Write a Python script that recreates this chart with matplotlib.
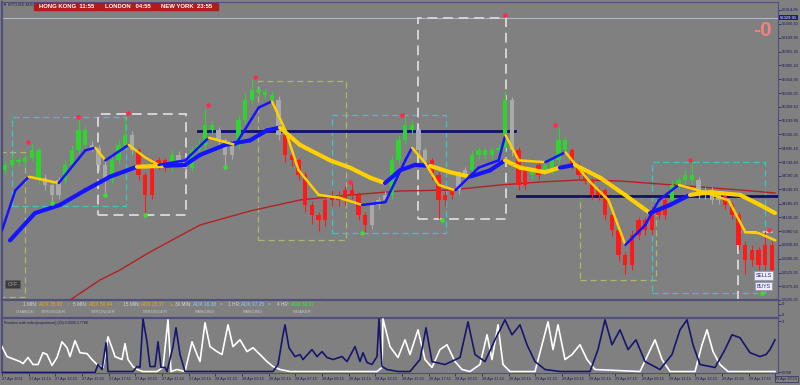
import numpy as np
import matplotlib
matplotlib.use('Agg')
import matplotlib.pyplot as plt
from matplotlib.patches import Rectangle
from matplotlib.transforms import blended_transform_factory

plt.rcParams['font.family'] = ['Liberation Sans', 'DejaVu Sans']

# Velas de 30 minutos, eje x en barras M15 contadas desde 27 Apr 09:15
apertura_inicial = 54650
cierres = [54710, 54760, 54740, 54790, 54870, 54570, 54490, 54380, 54540, 54710,
           54870, 55090, 54930, 54900, 54710, 54540, 54760, 54930, 55040, 54870,
           54600, 54380, 54710, 54760, 54680, 54820, 54760, 54680, 54870, 54930,
           55150, 55090, 54980, 54820, 54930, 55200, 55420, 55530, 55510, 55480,
           55420, 55040, 54820, 54760, 54600, 54270, 54160, 54100, 54320, 54380,
           54320, 54430, 54380, 54160, 54050, 54270, 54320, 54380, 54760, 54980,
           55150, 55090, 54870, 54760, 54600, 54320, 54380, 54430, 54600, 54650,
           54820, 54870, 54820, 54870, 54900, 55420, 54870, 54490, 54650, 54600,
           54710, 54650, 54760, 54980, 54870, 54710, 54600, 54540, 54380, 54430,
           54160, 53990, 53720, 53610, 53940, 54100, 53990, 54210, 54160, 54320,
           54490, 54540, 54600, 54540, 54380, 54430, 54320, 54380, 54270, 54160,
           53830, 53660, 53770, 53610, 53830, 53550]
mecha_sup = [40, 60, 40, 50, 80, 30, 40, 30, 40, 50,
             60, 120, 50, 40, 30, 40, 50, 60, 200, 40,
             30, 30, 60, 40, 30, 60, 40, 40, 50, 60,
             180, 40, 40, 30, 50, 60, 80, 120, 40, 40,
             40, 50, 30, 30, 30, 30, 40, 30, 60, 50,
             40, 50, 80, 30, 30, 40, 40, 40, 50, 60,
             100, 50, 30, 30, 30, 30, 40, 40, 40, 40,
             50, 40, 40, 40, 40, 100, 40, 40, 60, 40,
             40, 40, 50, 150, 40, 30, 30, 30, 30, 40,
             30, 30, 30, 30, 50, 40, 40, 50, 40, 40,
             50, 40, 50, 150, 40, 40, 40, 40, 30, 30,
             30, 40, 60, 40, 150, 40]
mecha_inf = [40, 50, 40, 40, 40, 60, 60, 80, 40, 40,
             40, 40, 50, 40, 60, 150, 40, 40, 40, 40,
             60, 200, 40, 50, 40, 40, 40, 40, 40, 40,
             40, 40, 60, 120, 40, 40, 40, 40, 40, 40,
             40, 60, 80, 60, 60, 80, 100, 120, 60, 60,
             60, 50, 50, 60, 80, 50, 40, 40, 40, 40,
             40, 40, 40, 50, 60, 200, 60, 40, 40, 40,
             40, 40, 40, 40, 40, 40, 60, 60, 40, 40,
             40, 40, 40, 40, 40, 40, 50, 40, 50, 60,
             60, 60, 70, 100, 60, 40, 50, 50, 40, 40,
             40, 40, 40, 40, 40, 40, 40, 40, 50, 50,
             60, 150, 60, 60, 60, 60]
color_velas = ("ggggggnnng" "gggnnngggn" "rrrrrgnngg" "ggnnnggggg" "gnrrrrrrrr"
               "rrrrrnnngg" "ggnnrrrrnn" "ggggggnrrg" "rggggrrrrr" "rrrrrrrrrr"
               "ggggnnnnrr" "rrrrrr")

# Media rapida (azul al subir, amarilla al bajar)
rapida_x = [0, 4, 8, 17, 25, 28, 31, 38, 43, 47, 55, 62, 70, 77, 81, 85, 89, 95, 101, 108,
            115, 121, 123, 127, 131, 136, 143, 149, 151, 155, 163, 169, 176, 182, 187, 193,
            197, 203, 209, 218, 223, 227, 232]
rapida_y = [53990, 54430, 54580, 54510, 54870, 54900, 54760, 54930, 54790, 54710, 54760,
            55010, 54930, 55340, 55410, 55090, 54650, 54380, 54350, 54270, 54300, 54760,
            54900, 54730, 54490, 54430, 54680, 54760, 55040, 54760, 54740, 54850, 54540,
            54320, 53830, 54050, 54320, 54490, 54430, 54320, 53970, 53960, 53880]
rapida_col = "bbybbybyybbybbyyyyybbbyyybbbyybyyybbbyyyyy"

# Media lenta
lenta_x = [2.4, 9.9, 17.4, 24.9, 32.4, 40.5, 48.9, 54.9, 59.4, 66.9, 74.4, 79.5, 83.4, 89.4,
           98.4, 104.4, 110.4, 114.9, 119.4, 123.9, 128.4, 134.4, 140.4, 146.4, 150.9, 155.4,
           162.9, 167.4, 171.9, 179.4, 186.9, 194.4, 200.4, 206.4, 212.4, 221.4, 227.4, 231.9]
lenta_y = [53880, 54180, 54270, 54430, 54580, 54690, 54700, 54710, 54820, 54930, 54980, 55090,
           55120, 54930, 54760, 54680, 54570, 54510, 54650, 54710, 54700, 54630, 54580, 54650,
           54760, 54680, 54630, 54680, 54710, 54570, 54380, 54180, 54270, 54380, 54410, 54380,
           54270, 54180]
lenta_col = "bbbbbybbbbbbyyyyybbbyybbyyybyyybbyyyy"

# Media larga (roja)
larga_x = [20.4, 29.4, 35.4, 44.4, 59.4, 74.4, 89.4, 104.4, 119.4, 134.4, 149.4, 161.4,
           173.4, 185.4, 197.4, 209.4, 221.4, 231.9]
larga_y = [53224, 53444, 53554, 53752, 54049, 54203, 54324, 54379, 54423, 54434, 54489,
           54522, 54544, 54533, 54500, 54467, 54434, 54401]

# Niveles horizontales (barra inicio, barra fin, precio)
niveles = [(58.8, 153.9, 55083), (154.5, 233.0, 54368)]

# Cajas discontinuas (barra inicio, barra fin, precio bajo, precio alto, tipo)
cajas = [(-1.0, 6.9, 53257, 54852, 'o'), (3.0, 37.2, 54258, 55237, 'c'),
         (28.8, 55.2, 54159, 55270, 'w'), (76.8, 103.2, 53884, 55633, 'o'),
         (99.0, 133.2, 53961, 55259, 'c'), (124.8, 151.2, 54115, 56330, 'w'),
         (173.4, 196.2, 53444, 54357, 'o'), (195.0, 229.0, 53301, 54742, 'c'),
         (220.8, 236.0, 53000, 53972, 'w')]

# Fractales
techo_x = [7.8, 22.8, 37.8, 61.8, 75.9, 104.4, 120.0, 150.9, 165.9, 206.4, 230.1]
techo_y = [54962, 55237, 55281, 55369, 55677, 54522, 55259, 56359, 55149, 54764, 53994]
suelo_x = [15.0, 30.9, 42.9, 66.9, 108.0, 132.0, 228.0]
suelo_y = [54291, 54379, 54159, 54687, 53961, 54104, 53301]

precio_actual = 56329.91
precios_eje = [56414.85, 56260.10, 56109.95, 55955.25, 55805.10, 55654.95, 55500.25,
               55350.10, 55199.95, 55045.25, 54895.10, 54740.40, 54590.25, 54440.10,
               54285.40, 54135.25, 53980.55, 53830.40, 53680.25, 53525.55, 53375.40,
               53225.25]

# Random walk index
rwi_blanca_x = [0, 1.5, 5.4, 6.3, 7.8, 9.3, 10.8, 12.3, 13.5, 15, 16.5, 18, 19.5, 20.4, 21.9,
                23.4, 25.5, 27, 28.5, 30.3, 31.8, 33, 33.9, 36, 36.9, 37.8, 39.3, 40.5, 42.3,
                46.5, 48.3, 49.8, 50.7, 52.5, 54.9, 57, 58.5, 59.4, 60.9, 62.4, 64.5, 66,
                67.8, 69.3, 71.4, 73.5, 75.3, 77.4, 79.5, 81.3, 83.4, 86.4, 99.3, 112.5, 114,
                114.3, 115.5, 116.4, 118.8, 120.9, 122.4, 124.8, 126.9, 129, 131.4, 133.5,
                135.9, 138, 140.4, 143.4, 145.5, 147, 148.8, 150.3, 152.4, 159.9, 162, 163.8,
                165.3, 166.8, 168.9, 171, 173.4, 175.5, 177.9, 191.4, 193.8, 195.9, 198,
                200.4, 207.9, 210, 211.5, 213.3, 215.4, 217.8, 231.9]
rwi_blanca_y = [1.40, 0.86, 0.59, 0.48, 0.81, 0.43, 0.43, 1.07, 0.97, 0.38, 0.81, 1.66, 1.34,
                0.86, 1.72, 1.07, 1.02, 0.70, 0.43, 0.27, 1.93, 1.34, 0.86, 0.70, 1.56, 0.70,
                0.32, 0.16, 0.05, 0.05, 0.27, 2.85, 0.05, 0.16, 0.05, 1.66, 0.97, 0.59, 2.69,
                1.40, 1.13, 0.97, 2.58, 1.40, 1.77, 1.13, 1.34, 0.97, 0.59, 0.32, 0.16, 0.05,
                0.05, 0.05, 0.27, 2.90, 2.04, 1.40, 0.81, 1.77, 0.97, 2.31, 0.70, 0.27, 1.24,
                1.50, 0.59, 0.16, 0.05, 0.43, 2.04, 0.70, 2.58, 0.43, 0.05, 0.05, 1.50, 2.74,
                1.24, 2.58, 0.70, 0.97, 1.50, 0.70, 0.16, 0.05, 0.97, 1.77, 0.70, 0.05, 0.05,
                1.50, 2.31, 1.13, 0.43, 0.05, 0.05]
rwi_azul_x = [0, 27.9, 28.8, 30, 31.2, 31.8, 39.3, 40.5, 41.4, 42.3, 43.5, 44.4, 45.9, 46.8,
              47.7, 48.9, 49.5, 51.3, 52.2, 53.4, 54.9, 81.3, 82.8, 84.3, 84.9, 86.1, 87.9,
              89.4, 90.3, 93, 94.5, 96, 97.5, 99.3, 102, 103.5, 105.9, 107.4, 108.3, 109.5,
              111, 112.5, 113.1, 114, 115.5, 118.8, 122.4, 125.4, 127.2, 129, 132.9, 137.4,
              139.8, 141.9, 144.9, 147.9, 150.9, 153, 155.4, 157.5, 159.9, 162.9, 167.4,
              176.4, 178.8, 180.9, 183, 185.4, 187.8, 190.2, 192.9, 197.4, 201, 203.4, 205.5,
              207.3, 209.4, 213.9, 216.9, 219, 221.4, 224.4, 227.4, 229.2, 230.4, 231.9]
rwi_azul_y = [0, 0, 0.43, 0.16, 1.61, 0.05, 0.05, 0.32, 0.27, 2.90, 1.66, 0.32, 0.32, 1.66,
              0.27, 0.27, 0.05, 1.40, 2.42, 0.97, 0.05, 0.05, 0.43, 2.04, 2.58, 1.34, 0.86,
              0.97, 0.70, 1.24, 0.86, 1.13, 0.81, 0.70, 0.86, 0.59, 1.40, 0.59, 1.07, 0.54,
              0.43, 0.86, 2.90, 0.32, 0.16, 0.05, 0.05, 0.70, 2.42, 0.59, 0.43, 0.81, 2.74,
              0.97, 0.59, 1.77, 2.85, 2.04, 2.58, 1.50, 0.59, 0.16, 0.05, 0.05, 1.24, 2.85,
              1.50, 2.31, 1.24, 1.77, 0.59, 0.16, 0.97, 2.31, 2.85, 1.50, 0.43, 0.27, 1.24,
              2.04, 1.88, 1.07, 0.86, 0.97, 1.24, 1.77]

barras_eje = list(range(0, 233, 8))
etiquetas_x = ['27 Apr 2021', '27 Apr 11:15', '27 Apr 13:15', '27 Apr 15:15', '27 Apr 17:15',
               '27 Apr 19:15', '27 Apr 21:15', '27 Apr 23:15', '28 Apr 01:15', '28 Apr 03:15',
               '28 Apr 05:15', '28 Apr 07:15', '28 Apr 09:15', '28 Apr 11:15', '28 Apr 13:15',
               '28 Apr 15:15', '28 Apr 17:15', '28 Apr 19:15', '28 Apr 21:15', '28 Apr 23:15',
               '29 Apr 01:15', '29 Apr 03:15', '29 Apr 05:15', '29 Apr 07:15', '29 Apr 09:15',
               '29 Apr 11:15', '29 Apr 13:15', '29 Apr 15:15', '29 Apr 17:15', '29 Apr 19:15']

# Panel ADX
c_lbl, c_or, c_bl, c_gr = '#d4d4dc', '#f5a800', '#8fcfff', '#22ff22'
adx_fila1 = [(23, '1 MIN:', c_lbl), (39, 'ADX 35.80', c_or), (66, '↑', c_or),
             (73, '5 MIN:', c_lbl), (89, 'ADX 56.44', c_or), (116, '↑', c_or),
             (123, '15 MIN:', c_lbl), (141, 'ADX 23.37', c_or), (168, '↘', c_or),
             (175, '30 MIN:', c_lbl), (193, 'ADX 16.38', c_bl), (220, '=', c_bl),
             (228, '1 HR:', c_lbl), (241, 'ADX 17.25', c_bl), (268, '=', c_bl),
             (277, '4 HR:', c_lbl), (291, 'ADX 33.07', c_gr), (318, '↑', c_gr)]
adx_fila2 = [(16, 'CHANGE:'), (41, 'STRONGER'), (91, 'STRONGER'), (143, 'STRONGER'),
             (195, 'RANGING'), (243, 'RANGING'), (293, 'WEAKER')]
relojes = [('HONG KONG  11:55', 34, 99), ('LONDON   04:55', 100, 155),
           ('NEW YORK  23:55', 156, 218)]

gris = '#808080'
marco = '#50507e'
azul_txt = '#1a1a5a'
colores = {'g': '#2fd42f', 'r': '#ff1a1a', 'n': '#a9a9a9', 'b': '#1414ff', 'y': '#ffd000'}
cajas_col = {'o': '#a9b968', 'c': '#3ec6c6', 'w': '#d4d4d4'}


def px(x, y):
    return x / 800, 1 - y / 385


def linea_tramos(ax, xs, ys, cols, lw):
    for i in range(len(xs) - 1):
        ax.plot(xs[i:i + 2], ys[i:i + 2], color=colores[cols[i]], lw=lw,
                solid_capstyle='round', zorder=5)


fig = plt.figure(figsize=(8, 3.85), dpi=100, facecolor=gris)

# Panel principal
ax = fig.add_axes([2 / 800, 1 - 300 / 385, 776 / 800, 298 / 385])
ax.set_facecolor(gris)
ax.set_xlim(0, 232.8)
ax.set_ylim(53224, 56502)
for s in ax.spines.values():
    s.set_color(marco)
ax.spines['bottom'].set_linewidth(1.6)
ax.spines['left'].set_linewidth(1.6)
ax.yaxis.tick_right()
ax.set_yticks(precios_eje)
ax.set_yticklabels(['%.2f' % p for p in precios_eje])
ax.tick_params(axis='y', labelsize=3.0, colors=azul_txt, length=2, width=0.5, pad=1)
ax.tick_params(axis='x', bottom=False, labelbottom=False)

ax.axhline(precio_actual, color='#aeb6d0', lw=0.8, zorder=1)
trans = blended_transform_factory(ax.transAxes, ax.transData)
ax.text(1.003, precio_actual, '%.2f' % precio_actual, transform=trans, fontsize=3.0,
        color='white', va='center', ha='left',
        bbox=dict(facecolor='#1c1c70', edgecolor='none', pad=0.6))

for x0, x1, p0, p1, t in cajas:
    lw = 1.4 if t == 'w' else 0.9
    ax.add_patch(Rectangle((x0, p0), x1 - x0, p1 - p0, fill=False, edgecolor=cajas_col[t],
                           lw=lw, ls=(0, (5, 3)), zorder=2))

ax.plot(larga_x, larga_y, color='#b22222', lw=1.0, zorder=3)
for x0, x1, p in niveles:
    ax.plot([x0, x1], [p, p], color='#10106e', lw=2.0, zorder=3)

# Velas
xs = 2 * np.arange(len(cierres)) + 1
aperturas = np.array([apertura_inicial] + cierres[:-1])
cierres_a = np.array(cierres)
cuerpo_bajo = np.minimum(aperturas, cierres_a)
cuerpo_alto = np.maximum(aperturas, cierres_a)
altura = np.maximum(cuerpo_alto - cuerpo_bajo, 12)
cols = [colores[c] for c in color_velas]
ax.vlines(xs, cuerpo_bajo - np.array(mecha_inf), cuerpo_alto + np.array(mecha_sup),
          colors=cols, lw=0.8, zorder=4)
ax.bar(xs, altura, bottom=cuerpo_bajo, width=1.3, color=cols, lw=0, zorder=4)

linea_tramos(ax, lenta_x, lenta_y, lenta_col, 3.0)
linea_tramos(ax, rapida_x, rapida_y, rapida_col, 1.8)

ax.scatter(techo_x, techo_y, s=11, color='#ff2a4a', zorder=7, lw=0)
ax.scatter(suelo_x, suelo_y, s=11, color='#33e033', zorder=7, lw=0)

# Panel ADX
ax2 = fig.add_axes([2 / 800, 1 - 318 / 385, 776 / 800, 18 / 385])
ax2.set_facecolor(gris)
ax2.set_xlim(0, 232.8)
ax2.set_ylim(0, 1)
for s in ax2.spines.values():
    s.set_color(marco)
ax2.spines['left'].set_linewidth(1.6)
ax2.yaxis.tick_right()
ax2.set_yticks([0.17, 0.78])
ax2.set_yticklabels(['0', '0'])
ax2.tick_params(axis='y', labelsize=3.0, colors=azul_txt, length=2, width=0.5, pad=1)
ax2.tick_params(axis='x', bottom=False, labelbottom=False)

for x, t, c in adx_fila1:
    fig.text(*px(x, 305), t, fontsize=3.4, color=c, va='center', ha='left')
for x, t in adx_fila2:
    fig.text(*px(x, 312), t, fontsize=3.2, color='#c4c4cc', va='center', ha='left')

# Panel Random walk index
ax3 = fig.add_axes([2 / 800, 1 - 373 / 385, 776 / 800, 55 / 385])
ax3.set_facecolor(gris)
ax3.set_xlim(0, 232.8)
ax3.set_ylim(-0.03, 2.95)
for s in ax3.spines.values():
    s.set_color(marco)
ax3.spines['top'].set_linewidth(1.6)
ax3.spines['left'].set_linewidth(1.6)
ax3.plot(rwi_blanca_x, rwi_blanca_y, color='white', lw=1.2, zorder=3)
ax3.plot(rwi_azul_x, rwi_azul_y, color='#16166e', lw=1.2, zorder=4)
ax3.yaxis.tick_right()
ax3.set_yticks([0, 2.7788])
ax3.set_yticklabels(['0.000', '3'])
ax3.tick_params(axis='y', labelsize=3.0, colors=azul_txt, length=2, width=0.5, pad=1)
ax3.set_xticks(barras_eje)
ax3.set_xticklabels(etiquetas_x, ha='left')
ax3.tick_params(axis='x', labelsize=2.8, colors=azul_txt, length=2, width=0.5, pad=1)
ax3.get_xticklabels()[-1].set_bbox(dict(facecolor='none', edgecolor=azul_txt, lw=0.4, pad=0.5))
ax3.text(0.003, 0.94, 'Random walk index(experiment) (25) 0.0000 2.7788',
         transform=ax3.transAxes, fontsize=2.6, color=azul_txt, va='top', ha='left')

# Cabecera y etiquetas
fig.text(*px(3, 5), '▼ BTCUSD,M15', fontsize=2.9, color=azul_txt, va='center', ha='left')
for t, x0, x1 in relojes:
    fig.patches.append(Rectangle(px(x0, 10), (x1 - x0) / 800, 7 / 385,
                                 transform=fig.transFigure, color='#ae1c1c'))
    fig.text(*px((x0 + x1) / 2, 6.6), t, fontsize=4.3, fontweight='bold', color='white',
             va='center', ha='center')

fig.text(*px(753, 31), '-0', fontsize=15, fontweight='bold', color='#f28080',
         va='center', ha='left')
fig.text(*px(12.5, 284), 'OFF', fontsize=3.8, color='#ababab', va='center', ha='center',
         bbox=dict(boxstyle='square,pad=0.35', facecolor='#3c3c3c', edgecolor='#5c5c5c', lw=0.5))
fig.text(*px(763.5, 275.5), 'SELLS', fontsize=3.8, color='#2a2a8a', va='center', ha='center',
         bbox=dict(boxstyle='square,pad=0.3', facecolor='#ececf4', edgecolor='#9090b0', lw=0.5))
fig.text(*px(763.5, 286), 'BUYS', fontsize=3.8, color='#2a2a8a', va='center', ha='center',
         bbox=dict(boxstyle='square,pad=0.3', facecolor='#ececf4', edgecolor='#9090b0', lw=0.5))

fig.savefig('out.png', dpi=100, facecolor=gris)
